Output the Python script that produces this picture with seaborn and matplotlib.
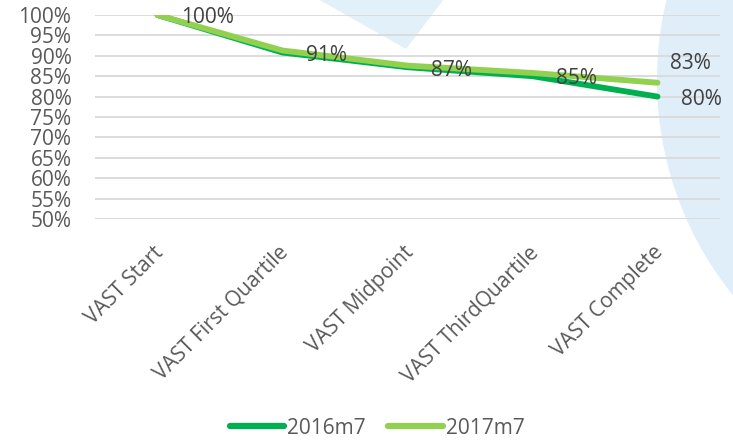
import matplotlib
matplotlib.use("Agg")

import matplotlib.pyplot as plt
import matplotlib.patches as mpatches
from matplotlib.lines import Line2D
from matplotlib.transforms import ScaledTranslation
import pandas as pd
import seaborn as sns

# data
stages = ["VAST Start", "VAST First Quartile", "VAST Midpoint", "VAST ThirdQuartile", "VAST Complete"]
series_names = ["2016m7", "2017m7"]
values_2016 = [100.0, 90.8, 87.2, 85.0, 80.0]
values_2017 = [100.0, 91.3, 87.6, 85.8, 83.4]
y_ticks = list(range(50, 101, 5))

colors = {"2016m7": "#00B050", "2017m7": "#92D050"}
text_grey = "#595959"
label_grey = "#404040"

df = pd.DataFrame(
    {
        "stage": stages * 2,
        "pos": list(range(len(stages))) * 2,
        "value": values_2016 + values_2017,
        "series": [series_names[0]] * len(stages) + [series_names[1]] * len(stages),
    }
)

sns.set_style("white")
plt.rcParams["font.family"] = ["Open Sans", "DejaVu Sans"]

fig = plt.figure(figsize=(7.33, 4.41), dpi=100)

# faint watermark shapes behind the plot
fig.patches.append(
    mpatches.Circle((10.0, 3.61), 3.43, transform=fig.dpi_scale_trans,
                    facecolor="#dfeef9", edgecolor="none", zorder=-5)
)
fig.patches.append(
    mpatches.Polygon([(3.18, 4.42), (4.44, 4.42), (4.06, 3.92)], closed=True,
                     transform=fig.dpi_scale_trans,
                     facecolor="#e2f0fa", edgecolor="none", zorder=-5)
)

ax = fig.add_axes([95 / 733, 1 - 219 / 441, 625 / 733, 204 / 441])
ax.set_zorder(1)
ax.patch.set_alpha(0)

sns.lineplot(
    data=df, x="pos", y="value", hue="series", palette=colors,
    hue_order=series_names, sort=False, linewidth=4.2,
    solid_capstyle="round", ax=ax, legend=False,
)

ax.set_xlim(-0.5, len(stages) - 0.5)
ax.set_ylim(50, 100)
ax.set_yticks(y_ticks)
ax.set_yticklabels([f"{t}%" for t in y_ticks])
ax.set_xticks(range(len(stages)))
ax.set_xticklabels(stages, rotation=45, ha="right", va="center", rotation_mode="anchor")
ax.set_xlabel("")
ax.set_ylabel("")

ax.yaxis.grid(True, color="#d9d9d9", linewidth=1.3)
ax.set_axisbelow(True)
for side in ["top", "right", "left", "bottom"]:
    ax.spines[side].set_visible(False)
ax.tick_params(axis="y", length=0, pad=17, labelsize=15, labelcolor=text_grey)
ax.tick_params(axis="x", length=0, pad=22, labelsize=15, labelcolor=text_grey)
shift = ScaledTranslation(0.03, 0, fig.dpi_scale_trans)
for lbl in ax.get_xticklabels():
    lbl.set_transform(lbl.get_transform() + shift)

# data labels: 2016 at every point, 2017 only at the last one
for i, v in enumerate(values_2016):
    ax.annotate(f"{v:.0f}%", (i, v), xytext=(17, -2), textcoords="offset points",
                ha="left", va="center", fontsize=15, color=label_grey,
                annotation_clip=False)
last = len(stages) - 1
ax.annotate(f"{values_2017[last]:.0f}%", (last, values_2017[last]), xytext=(9, 14),
            textcoords="offset points", ha="left", va="center", fontsize=15,
            color=label_grey, annotation_clip=False)

handles = [Line2D([], [], color=colors[s], linewidth=4.5, solid_capstyle="round") for s in series_names]
fig.legend(
    handles, series_names, loc="center", bbox_to_anchor=(377 / 733, 13 / 441),
    ncol=2, frameon=False, fontsize=15, labelcolor=text_grey,
    handlelength=2.6, handletextpad=0.15, columnspacing=1.1, borderpad=0.1,
)

fig.savefig("out.png", dpi=100)
plt.close(fig)
